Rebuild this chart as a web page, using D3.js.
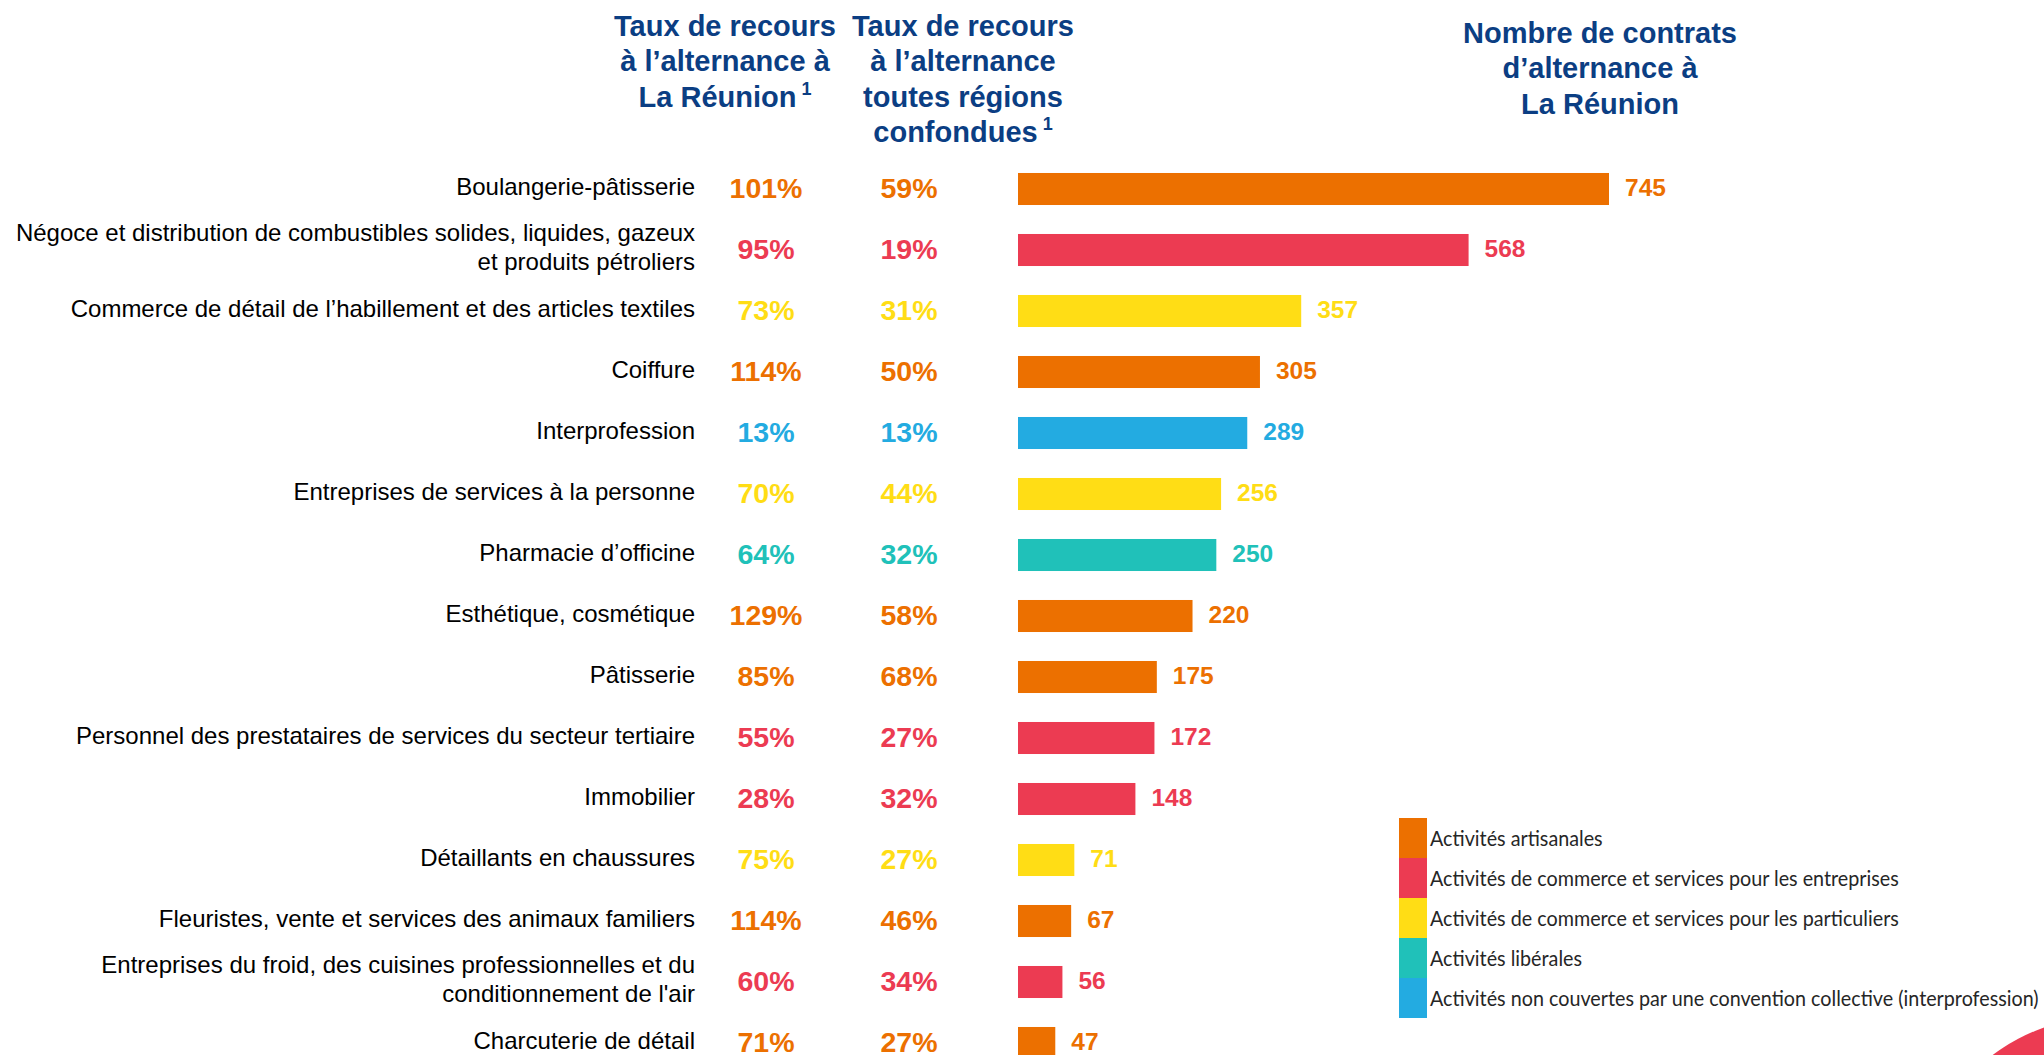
<!DOCTYPE html>
<html>
<head>
<meta charset="utf-8">
<script src="https://cdn.jsdelivr.net/npm/d3@7"></script>
<style>
  html, body { margin: 0; padding: 0; background: #fff; }
  svg { display: block; font-family: "Liberation Sans", Arial, sans-serif; }
</style>
</head>
<body>
<svg></svg>
<script>
// branches (labels, "\n" = line break)
const categories = [
  "Boulangerie-pâtisserie",
  "Négoce et distribution de combustibles solides, liquides, gazeux\net produits pétroliers",
  "Commerce de détail de l’habillement et des articles textiles",
  "Coiffure",
  "Interprofession",
  "Entreprises de services à la personne",
  "Pharmacie d’officine",
  "Esthétique, cosmétique",
  "Pâtisserie",
  "Personnel des prestataires de services du secteur tertiaire",
  "Immobilier",
  "Détaillants en chaussures",
  "Fleuristes, vente et services des animaux familiers",
  "Entreprises du froid, des cuisines professionnelles et du\nconditionnement de l'air",
  "Charcuterie de détail"
];
// taux de recours à l'alternance (%)
const tauxReunion = [101, 95, 73, 114, 13, 70, 64, 129, 85, 55, 28, 75, 114, 60, 71];
const tauxFrance = [59, 19, 31, 50, 13, 44, 32, 58, 68, 27, 32, 27, 46, 34, 27];
// nombre de contrats d'alternance à La Réunion
const contrats = [745, 568, 357, 305, 289, 256, 250, 220, 175, 172, 148, 71, 67, 56, 47];
// type d'activité de chaque branche
const secteurs = ["art", "ent", "par", "art", "non", "par", "lib", "art", "art", "ent", "ent", "par", "art", "ent", "art"];

const legendKeys = ["art", "ent", "par", "lib", "non"];
const legendLabels = [
  "Activités artisanales",
  "Activités de commerce et services pour les entreprises",
  "Activités de commerce et services pour les particuliers",
  "Activités libérales",
  "Activités non couvertes par une convention collective (interprofession)"
];

const w = 2044;
const h = 1055;
const navy = "#0b3e83";

const color = d3.scaleOrdinal()
  .domain(legendKeys)
  .range(["#ec7000", "#ec3b52", "#ffdd15", "#20c1b9", "#23abe1"]);

const svg = d3.select("svg").attr("width", w).attr("height", h);

// rows
const y = d3.scaleBand()
  .domain(categories)
  .range([158.5, 158.5 + 61 * categories.length])
  .paddingInner(0.475)
  .paddingOuter(0.2375);
const rowMid = c => y(c) + y.bandwidth() / 2;

// bars
const barLeft = 1018;
const x = d3.scaleLinear()
  .domain([0, 745])
  .range([0, 591]);

const rows = categories.map((c, i) => ({
  cat: c, r: tauxReunion[i], f: tauxFrance[i], n: contrats[i], s: secteurs[i]
}));

// decorative circle bottom right
svg.append("circle")
  .attr("cx", 2110).attr("cy", 1212).attr("r", 196)
  .attr("fill", "#ec3b52");

// column headers
function header(lines, cx, y0, supLast) {
  const t = svg.append("text")
    .attr("text-anchor", "middle")
    .attr("font-size", 29)
    .attr("font-weight", "bold")
    .attr("fill", navy);
  lines.forEach((l, i) => {
    t.append("tspan").attr("x", cx).attr("y", y0 + i * 35.3).text(l);
  });
  if (supLast) {
    t.select("tspan:last-child")
      .append("tspan")
      .attr("font-size", 18)
      .attr("dy", -12)
      .text(" 1");
  }
}
header(["Taux de recours", "à l’alternance à", "La Réunion"], 725, 36, true);
header(["Taux de recours", "à l’alternance", "toutes régions", "confondues"], 963, 36, true);
header(["Nombre de contrats", "d’alternance à", "La Réunion"], 1600, 43, false);

// category labels
const lab = svg.append("g")
  .attr("font-size", 24)
  .attr("fill", "#000")
  .attr("text-anchor", "end");
rows.forEach(d => {
  const parts = d.cat.split("\n");
  const t = lab.append("text");
  parts.forEach((p, k) => {
    t.append("tspan")
      .attr("x", 695)
      .attr("y", rowMid(d.cat) + (k - (parts.length - 1) / 2) * 29)
      .attr("dy", "0.24em")
      .text(p);
  });
});

// percentage columns
function pctColumn(key, cx) {
  svg.append("g")
    .selectAll("text")
    .data(rows)
    .join("text")
    .attr("x", cx)
    .attr("y", d => rowMid(d.cat))
    .attr("dy", "0.3em")
    .attr("text-anchor", "middle")
    .attr("font-size", 28.5)
    .attr("font-weight", "bold")
    .attr("fill", d => color(d.s))
    .text(d => d[key] + "%");
}
pctColumn("r", 766);
pctColumn("f", 909);

// bars
const chart = svg.append("g").attr("transform", `translate(${barLeft}, 0)`);
chart.selectAll("rect")
  .data(rows)
  .join("rect")
  .attr("x", 0)
  .attr("y", d => y(d.cat))
  .attr("width", d => x(d.n))
  .attr("height", y.bandwidth())
  .attr("fill", d => color(d.s));

chart.selectAll("text.val")
  .data(rows)
  .join("text")
  .attr("class", "val")
  .attr("x", d => x(d.n) + 16)
  .attr("y", d => rowMid(d.cat))
  .attr("dy", "0.3em")
  .attr("font-size", 24.5)
  .attr("font-weight", "bold")
  .attr("fill", d => color(d.s))
  .text(d => d.n);

// legend
const leg = svg.append("g").attr("transform", "translate(1399, 818)");
const item = leg.selectAll("g")
  .data(legendKeys)
  .join("g")
  .attr("transform", (d, i) => `translate(0, ${i * 40})`);
item.append("rect")
  .attr("width", 28)
  .attr("height", 40)
  .attr("fill", d => color(d));
const legText = item.append("text")
  .attr("x", 31)
  .attr("y", 20)
  .attr("dy", "0.38em")
  .attr("font-family", "Lato, 'Open Sans', sans-serif")
  .attr("font-size", 21)
  .attr("fill", "#262626")
  .text((d, i) => legendLabels[i]);

// squeeze the legend font to a Calibri-like width
const longest = d3.max(legText.nodes(), n => n.getComputedTextLength());
const k = 609 / longest;
legText.attr("transform", `scale(${k}, 1)`).attr("x", 31 / k);
</script>
</body>
</html>
